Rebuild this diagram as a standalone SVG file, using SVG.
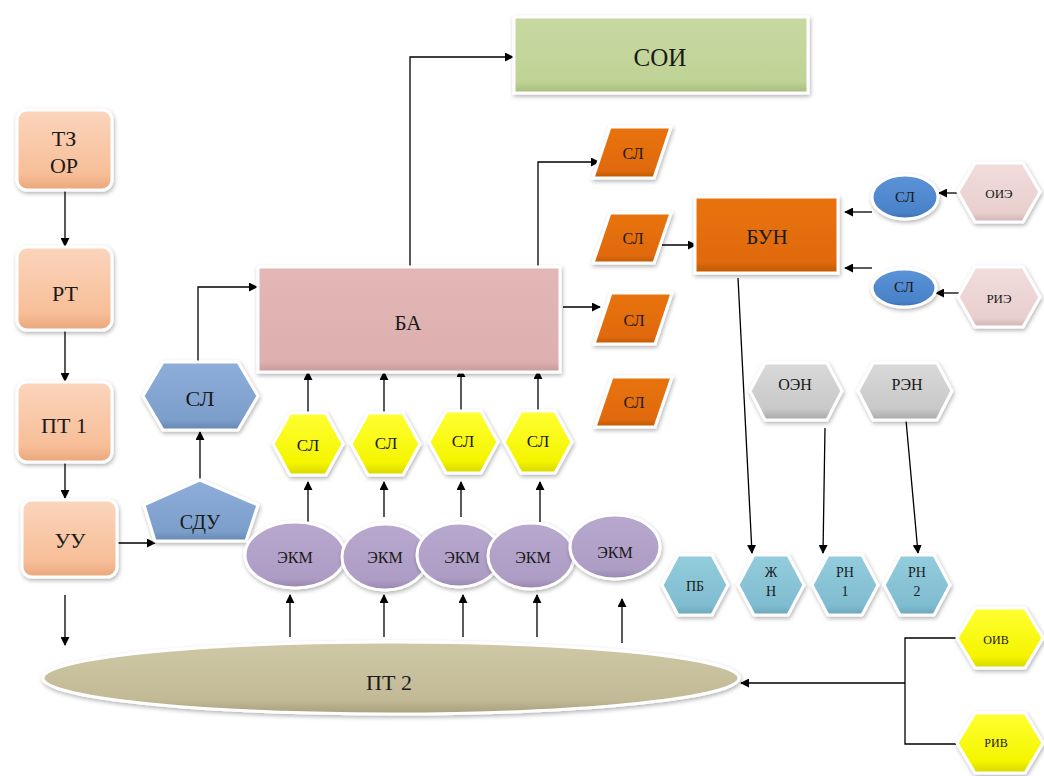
<svg xmlns="http://www.w3.org/2000/svg" width="1044" height="776" viewBox="0 0 1044 776">
<defs>
<filter id="sh" x="-20%" y="-20%" width="140%" height="150%">
<feDropShadow dx="1" dy="2" stdDeviation="2" flood-color="#000" flood-opacity="0.3"/>
</filter>
<linearGradient id="gPeach" x1="0" y1="0" x2="0" y2="1"><stop offset="0" stop-color="#FBD5BC"/><stop offset="0.8" stop-color="#F7BE98"/><stop offset="1" stop-color="#E9A67A"/></linearGradient>
<linearGradient id="gGreen" x1="0" y1="0" x2="0" y2="1"><stop offset="0" stop-color="#C7D9A1"/><stop offset="0.85" stop-color="#C0D396"/><stop offset="1" stop-color="#A6BA7C"/></linearGradient>
<linearGradient id="gPink" x1="0" y1="0" x2="0" y2="1"><stop offset="0" stop-color="#E2B7B6"/><stop offset="0.9" stop-color="#DDB0AF"/><stop offset="1" stop-color="#C89897"/></linearGradient>
<linearGradient id="gOrange" x1="0" y1="0" x2="0" y2="1"><stop offset="0" stop-color="#E8730F"/><stop offset="0.85" stop-color="#E06A08"/><stop offset="1" stop-color="#BF5805"/></linearGradient>
<linearGradient id="gSteel" x1="0" y1="0" x2="0" y2="1"><stop offset="0" stop-color="#8EAEDA"/><stop offset="0.85" stop-color="#7C9ECB"/><stop offset="1" stop-color="#6585B2"/></linearGradient>
<linearGradient id="gYellow" x1="0" y1="0" x2="0" y2="1"><stop offset="0" stop-color="#FFFF33"/><stop offset="0.8" stop-color="#F5F500"/><stop offset="1" stop-color="#D6D600"/></linearGradient>
<linearGradient id="gPurple" x1="0" y1="0" x2="0" y2="1"><stop offset="0" stop-color="#B9A8CE"/><stop offset="0.85" stop-color="#AD9CC4"/><stop offset="1" stop-color="#9685AD"/></linearGradient>
<linearGradient id="gTeal" x1="0" y1="0" x2="0" y2="1"><stop offset="0" stop-color="#93CDDD"/><stop offset="0.85" stop-color="#80BCD0"/><stop offset="1" stop-color="#6AA5B8"/></linearGradient>
<linearGradient id="gGray" x1="0" y1="0" x2="0" y2="1"><stop offset="0" stop-color="#D9D9D9"/><stop offset="0.8" stop-color="#C9C9C9"/><stop offset="1" stop-color="#A8A8A8"/></linearGradient>
<linearGradient id="gRose" x1="0" y1="0" x2="0" y2="1"><stop offset="0" stop-color="#F1DDDC"/><stop offset="0.85" stop-color="#E8CFCE"/><stop offset="1" stop-color="#CDB3B2"/></linearGradient>
<linearGradient id="gBlue" x1="0" y1="0" x2="0" y2="1"><stop offset="0" stop-color="#5B93D8"/><stop offset="0.85" stop-color="#4A82C8"/><stop offset="1" stop-color="#3A6DAD"/></linearGradient>
<linearGradient id="gKhaki" x1="0" y1="0" x2="0" y2="1"><stop offset="0" stop-color="#CFC8A6"/><stop offset="0.8" stop-color="#C2BA96"/><stop offset="1" stop-color="#A79F7C"/></linearGradient>
<marker id="ah" viewBox="0 0 10 10" refX="9" refY="5" markerWidth="9" markerHeight="9" markerUnits="userSpaceOnUse" orient="auto">
<path d="M0,0 L10,5 L0,10 z" fill="#000"/>
</marker>
</defs>
<style>
.nd{stroke:#fff;stroke-width:3;filter:url(#sh)}
.t{fill:#1a1a1a;text-anchor:middle;dominant-baseline:central}
.c{fill:none;stroke:#000;stroke-width:1.3}
.a{marker-end:url(#ah)}
</style>
<rect width="1044" height="776" fill="#fff"/>

<g id="connectors">
<path class="c a" d="M65 190 V246"/>
<path class="c a" d="M65 330 V381"/>
<path class="c a" d="M65 462 V498"/>
<path class="c a" d="M65 595 V645"/>
<path class="c a" d="M118 543 H155"/>
<path class="c a" d="M200 480 V432"/>
<path class="c a" d="M198 362 V287 H257"/>
<path class="c a" d="M410 267 V57 H513"/>
<path class="c a" d="M538 267 V162 H599"/>
<path class="c a" d="M563 307 H600"/>
<path class="c a" d="M662 245 H696"/>
<path class="c a" d="M872 212 H845"/>
<path class="c a" d="M872 268 H845"/>
<path class="c a" d="M958 193 H939"/>
<path class="c a" d="M960 293 H936"/>
<path class="c a" d="M738 278 L752 553"/>
<path class="c a" d="M825 428 L823 553"/>
<path class="c a" d="M906 420 L918 553"/>
<path class="c a" d="M308 523 V482"/>
<path class="c a" d="M384 517 V482"/>
<path class="c a" d="M461 517 V482"/>
<path class="c a" d="M540 522 V482"/>
<path class="c a" d="M308 413 V372"/>
<path class="c a" d="M384 413 V372"/>
<path class="c a" d="M461 410 V369"/>
<path class="c a" d="M538 410 V371"/>
<path class="c a" d="M290 637 V595"/>
<path class="c a" d="M384 637 V595"/>
<path class="c a" d="M463 637 V595"/>
<path class="c a" d="M537 637 V595"/>
<path class="c a" d="M622 643 V599"/>
<path class="c" d="M957 638 H905 V744 H957"/>
<path class="c a" d="M905 683 H741"/>
</g>

<g id="n-tzor"><rect class="nd" x="17" y="110" width="95" height="80" rx="10" fill="url(#gPeach)"/><text class="t" font-family="Liberation Serif" x="64" y="138" font-size="22">ТЗ</text><text class="t" font-family="Liberation Serif" x="64" y="165" font-size="22">ОР</text></g>
<g id="n-rt"><rect class="nd" x="17" y="247" width="95" height="83" rx="10" fill="url(#gPeach)"/><text class="t" font-family="Liberation Serif" x="65" y="293" font-size="22">РТ</text></g>
<g id="n-pt1"><rect class="nd" x="17" y="382" width="95" height="80" rx="10" fill="url(#gPeach)"/><text class="t" font-family="Liberation Serif" x="64" y="425" font-size="22">ПТ 1</text></g>
<g id="n-uu"><rect class="nd" x="22" y="500" width="95" height="77" rx="10" fill="url(#gPeach)"/><text class="t" font-family="Liberation Serif" x="70" y="540" font-size="22">УУ</text></g>

<g id="n-soi"><rect class="nd" x="514" y="17" width="294" height="76" fill="url(#gGreen)"/><text class="t" font-family="Liberation Serif" x="660" y="57" font-size="25">СОИ</text></g>
<g id="n-ba"><rect class="nd" x="258" y="267" width="302" height="105" fill="url(#gPink)"/><text class="t" font-family="Liberation Serif" x="408" y="323" font-size="21">БА</text></g>
<g id="n-bun"><rect class="nd" x="695" y="197" width="143" height="76" fill="url(#gOrange)"/><text class="t" font-family="Liberation Serif" x="767" y="237" font-size="21">БУН</text></g>

<g id="n-sl-o1"><polygon class="nd" points="610,127 671,127 654,178 593,178" fill="url(#gOrange)"/><text class="t" font-family="Liberation Serif" x="633" y="153" font-size="16">СЛ</text></g>
<g id="n-sl-o2"><polygon class="nd" points="610,213 671,213 654,263 593,263" fill="url(#gOrange)"/><text class="t" font-family="Liberation Serif" x="633" y="238" font-size="16">СЛ</text></g>
<g id="n-sl-o3"><polygon class="nd" points="611,293 672,293 655,344 594,344" fill="url(#gOrange)"/><text class="t" font-family="Liberation Serif" x="634" y="320" font-size="16">СЛ</text></g>
<g id="n-sl-o4"><polygon class="nd" points="612,377 672,377 655,427 595,427" fill="url(#gOrange)"/><text class="t" font-family="Liberation Serif" x="634" y="402" font-size="16">СЛ</text></g>

<g id="n-sl-blue"><polygon class="nd" points="143,396 163,362 238,362 258,396 238,430 163,430" fill="url(#gSteel)"/><text class="t" font-family="Liberation Serif" x="200" y="398" font-size="22">СЛ</text></g>
<g id="n-sdu"><polygon class="nd" points="200,480 258,505 246,541 155,541 144,505" fill="url(#gSteel)"/><text class="t" font-family="Liberation Serif" x="200" y="522" font-size="20">СДУ</text></g>

<g id="n-sl-y1"><polygon class="nd" points="273,444 290,413 326,413 343,444 326,475 290,475" fill="url(#gYellow)"/><text class="t" font-family="Liberation Serif" x="308" y="445" font-size="17">СЛ</text></g>
<g id="n-sl-y2"><polygon class="nd" points="351,444 368,413 403,413 420,444 403,475 368,475" fill="url(#gYellow)"/><text class="t" font-family="Liberation Serif" x="386" y="443" font-size="17">СЛ</text></g>
<g id="n-sl-y3"><polygon class="nd" points="429,442 446,411 481,411 498,442 481,473 446,473" fill="url(#gYellow)"/><text class="t" font-family="Liberation Serif" x="463" y="441" font-size="17">СЛ</text></g>
<g id="n-sl-y4"><polygon class="nd" points="504,442 521,411 555,411 572,442 555,473 521,473" fill="url(#gYellow)"/><text class="t" font-family="Liberation Serif" x="538" y="441" font-size="17">СЛ</text></g>

<g id="n-ekm1"><ellipse class="nd" cx="295" cy="555" rx="50" ry="33" fill="url(#gPurple)"/><text class="t" font-family="Liberation Serif" x="295" y="557" font-size="16">ЭКМ</text></g>
<g id="n-ekm2"><ellipse class="nd" cx="385" cy="557" rx="43" ry="33" fill="url(#gPurple)"/><text class="t" font-family="Liberation Serif" x="385" y="557" font-size="16">ЭКМ</text></g>
<g id="n-ekm3"><ellipse class="nd" cx="459" cy="555" rx="42" ry="32" fill="url(#gPurple)"/><text class="t" font-family="Liberation Serif" x="462" y="557" font-size="16">ЭКМ</text></g>
<g id="n-ekm4"><ellipse class="nd" cx="531" cy="556" rx="43" ry="33" fill="url(#gPurple)"/><text class="t" font-family="Liberation Serif" x="533" y="557" font-size="16">ЭКМ</text></g>
<g id="n-ekm5"><ellipse class="nd" cx="615" cy="547" rx="45" ry="32" fill="url(#gPurple)"/><text class="t" font-family="Liberation Serif" x="615" y="552" font-size="16">ЭКМ</text></g>

<g id="n-pt2"><ellipse class="nd" cx="391" cy="678" rx="348" ry="36" fill="url(#gKhaki)"/><text class="t" font-family="Liberation Serif" x="389" y="682" font-size="22">ПТ 2</text></g>

<g id="n-sl-e1"><ellipse class="nd" cx="905" cy="197" rx="33" ry="22" fill="url(#gBlue)"/><text class="t" font-family="Liberation Serif" x="905" y="197" font-size="15">СЛ</text></g>
<g id="n-sl-e2"><ellipse class="nd" cx="904" cy="288" rx="32" ry="19" fill="url(#gBlue)"/><text class="t" font-family="Liberation Serif" x="904" y="287" font-size="15">СЛ</text></g>
<g id="n-oie"><polygon class="nd" points="958,192 975,163 1023,163 1040,192 1023,222 975,222" fill="url(#gRose)"/><text class="t" font-family="Liberation Serif" x="999" y="193" font-size="13">ОИЭ</text></g>
<g id="n-rie"><polygon class="nd" points="958,297 975,267 1023,267 1040,297 1023,327 975,327" fill="url(#gRose)"/><text class="t" font-family="Liberation Serif" x="999" y="298" font-size="13">РИЭ</text></g>

<g id="n-oen"><polygon class="nd" points="750,391 765,363 827,363 842,391 827,420 765,420" fill="url(#gGray)"/><text class="t" font-family="Liberation Serif" x="795" y="384" font-size="16">ОЭН</text></g>
<g id="n-ren"><polygon class="nd" points="858,391 873,363 937,363 952,391 937,420 873,420" fill="url(#gGray)"/><text class="t" font-family="Liberation Serif" x="907" y="384" font-size="16">РЭН</text></g>

<g id="n-pb"><polygon class="nd" points="662,585 678,555 712,555 728,585 712,615 678,615" fill="url(#gTeal)"/><text class="t" font-family="Liberation Serif" x="695" y="586" font-size="14">ПБ</text></g>
<g id="n-zhn"><polygon class="nd" points="738,585 754,555 788,555 804,585 788,615 754,615" fill="url(#gTeal)"/><text class="t" font-family="Liberation Serif" x="771" y="572" font-size="14">Ж</text><text class="t" font-family="Liberation Serif" x="771" y="591" font-size="14">Н</text></g>
<g id="n-rn1"><polygon class="nd" points="812,585 828,555 862,555 878,585 862,615 828,615" fill="url(#gTeal)"/><text class="t" font-family="Liberation Serif" x="845" y="572" font-size="14">РН</text><text class="t" font-family="Liberation Serif" x="845" y="591" font-size="14">1</text></g>
<g id="n-rn2"><polygon class="nd" points="884,585 900,555 934,555 950,585 934,615 900,615" fill="url(#gTeal)"/><text class="t" font-family="Liberation Serif" x="917" y="572" font-size="14">РН</text><text class="t" font-family="Liberation Serif" x="917" y="591" font-size="14">2</text></g>

<g id="n-oiv"><polygon class="nd" points="957,638 975,608 1025,608 1043,638 1025,668 975,668" fill="url(#gYellow)"/><text class="t" font-family="Liberation Serif" x="996" y="640" font-size="12">ОИВ</text></g>
<g id="n-riv"><polygon class="nd" points="957,743 975,713 1025,713 1043,743 1025,773 975,773" fill="url(#gYellow)"/><text class="t" font-family="Liberation Serif" x="996" y="743" font-size="12">РИВ</text></g>
</svg>
